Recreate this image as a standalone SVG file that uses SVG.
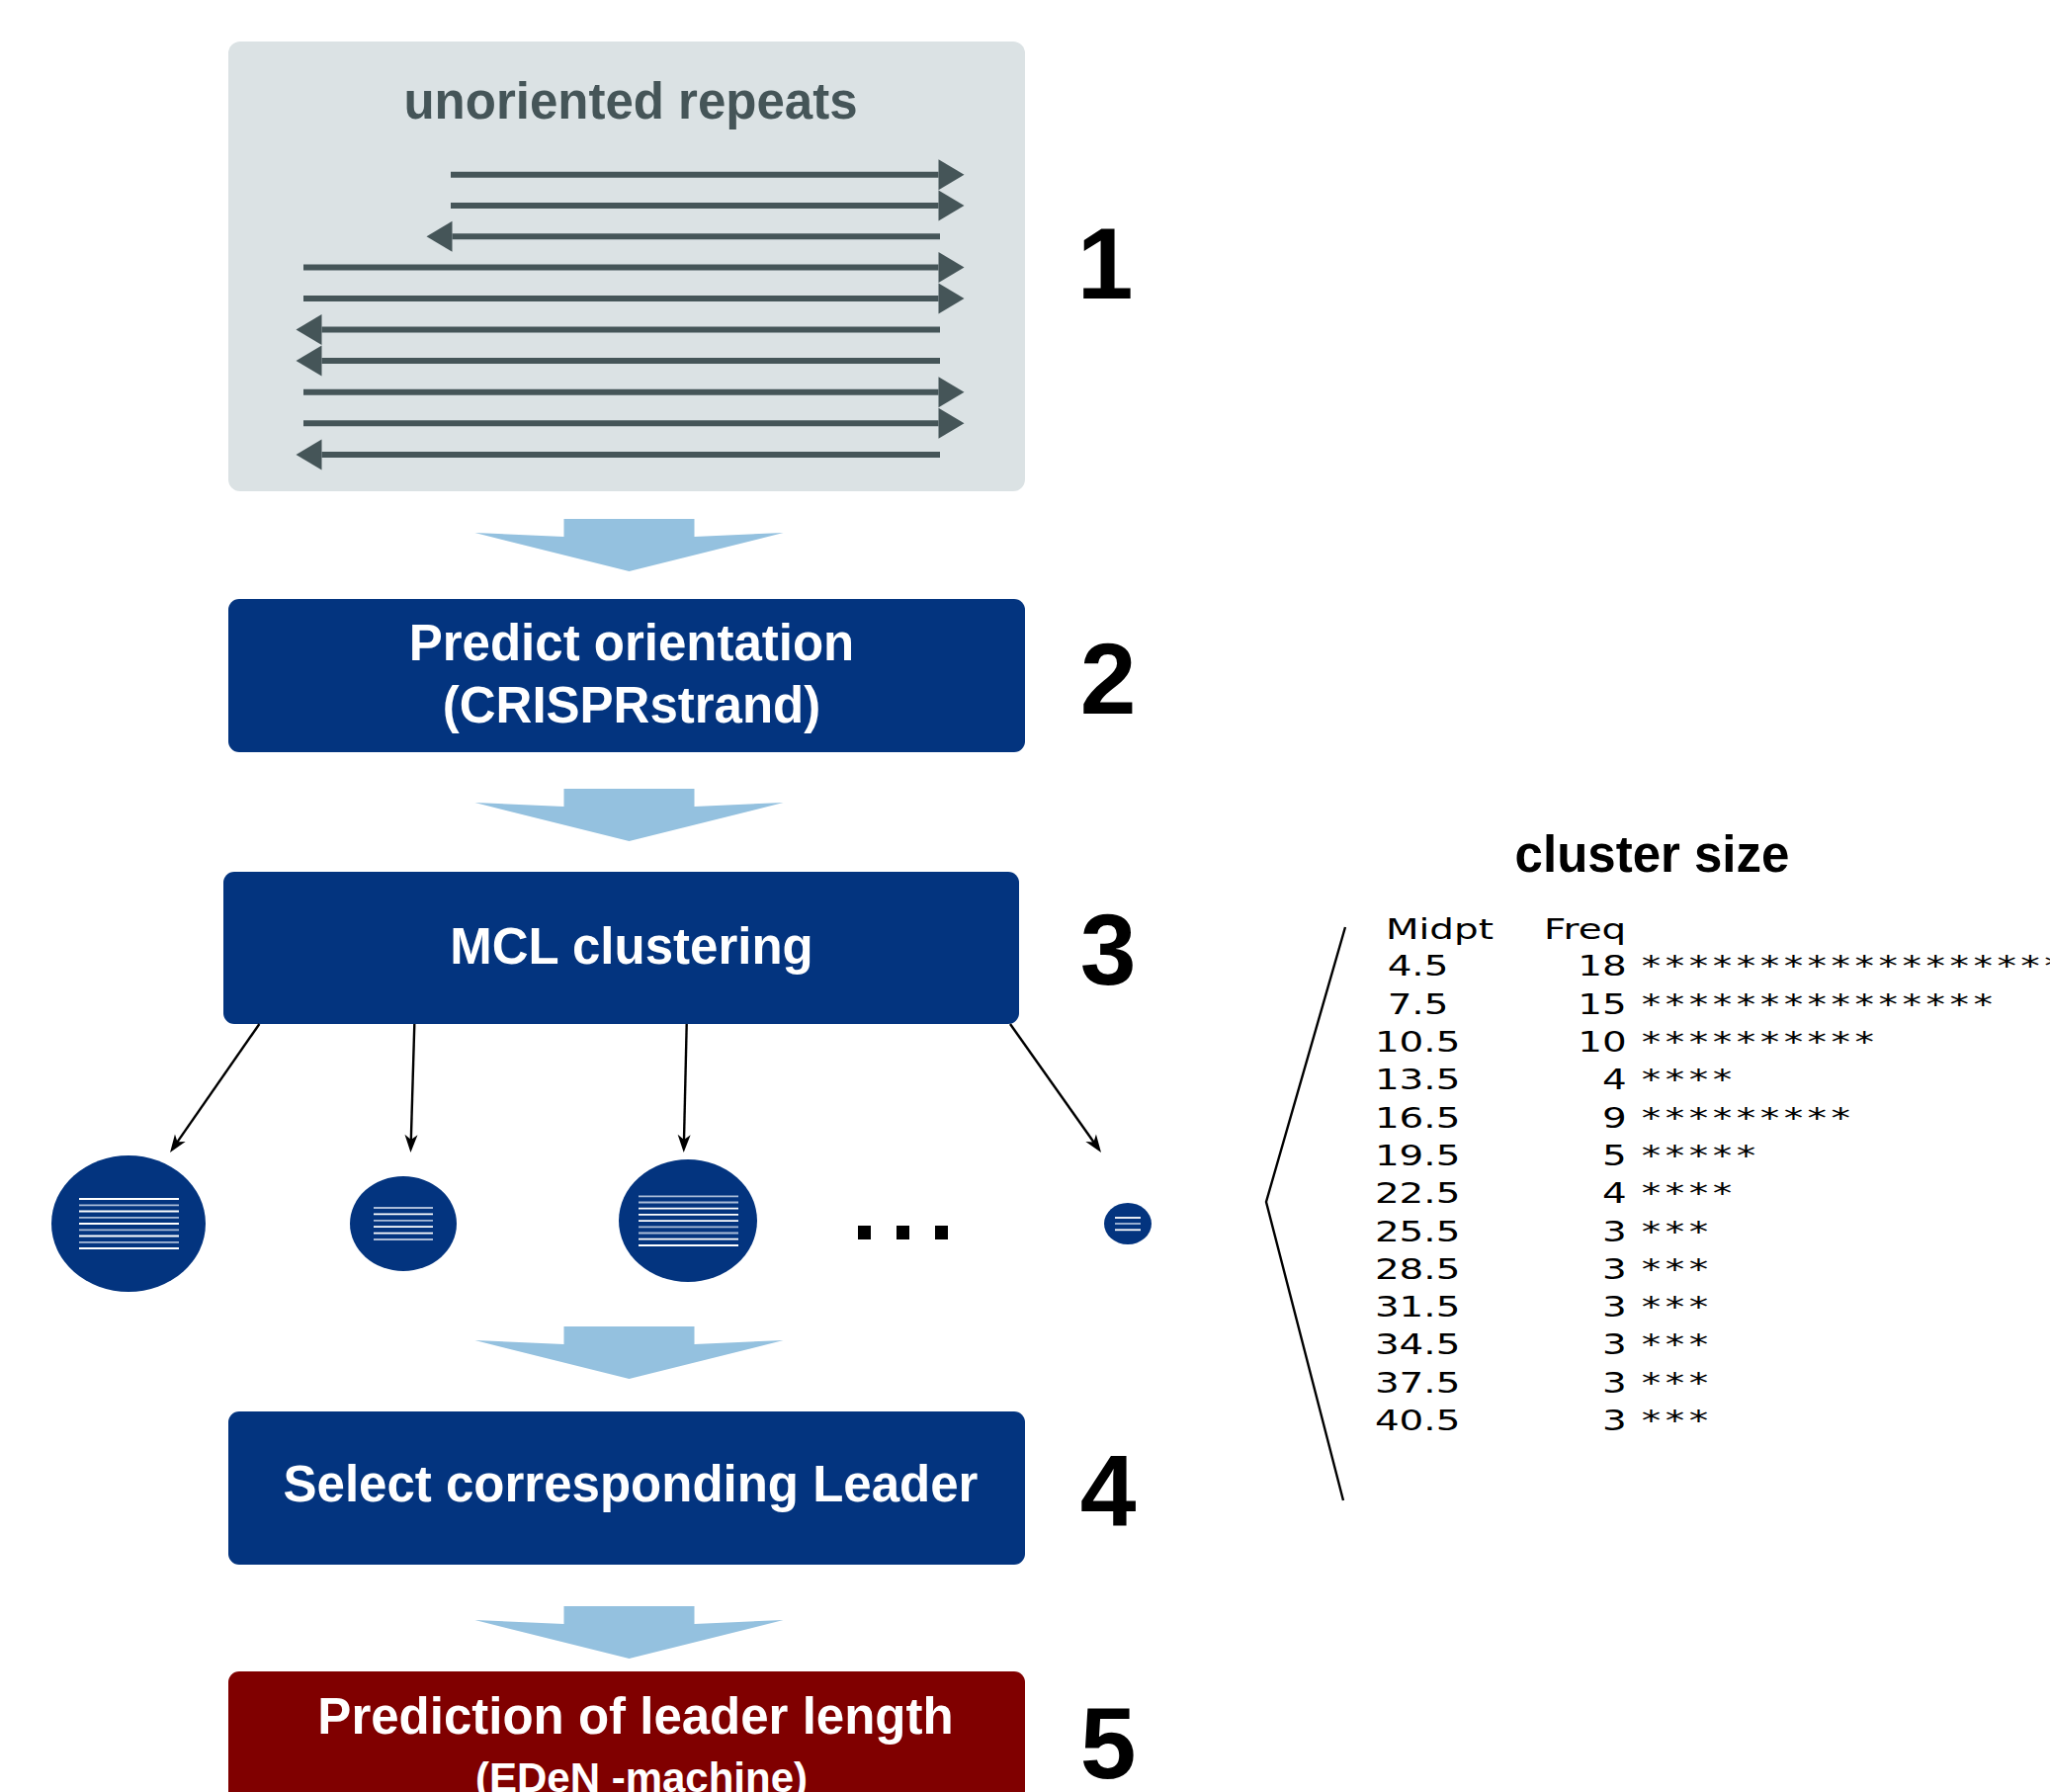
<svg xmlns="http://www.w3.org/2000/svg" width="2074" height="1813" viewBox="0 0 2074 1813">
  <style>
    .box { fill: #03347f; }
    .boxtxt { font-family: "Liberation Sans", Arial, sans-serif; font-weight: bold; fill: #ffffff; text-anchor: middle; }
    .num { font-family: "Liberation Sans", Arial, sans-serif; font-weight: bold; font-size: 102px; fill: #000000; text-anchor: middle; }
    .rep { stroke: #455558; stroke-width: 6; fill: none; }
    .conn { stroke: #000000; stroke-width: 2.4; fill: none; }
    .cl { fill: #03347f; }
    .lw { stroke: #ffffff; stroke-width: 1.8; }
    .lb { stroke: #a9bbd8; stroke-width: 1.8; }
    .hist { font-family: "DejaVu Sans", Verdana, sans-serif; font-size: 29px; fill: #000000; }
    .freq { text-anchor: end; }
    .ast { letter-spacing: 3.4px; }
  </style>
  <defs>
    <marker id="repHead" markerUnits="userSpaceOnUse" markerWidth="30" markerHeight="34" viewBox="0 -17 30 34" refX="0" refY="0" orient="auto" overflow="visible">
      <path d="M0,-15.5 L26,0 L0,15.5 Z" fill="#455558"/>
    </marker>
    <marker id="connHead" markerUnits="userSpaceOnUse" markerWidth="24" markerHeight="16" viewBox="-12 -8 24 16" refX="0" refY="0" orient="auto" overflow="visible">
      <path d="M8,0 L-10,-6.5 L-5,0 L-10,6.5 Z" fill="#000000"/>
    </marker>
    <polygon id="bigArrow" points="-66,0 66,0 66,18 156,14 0,53 -156,14 -66,18" fill="#94c1df"/>
  </defs>

  <!-- Step 1: unoriented repeats -->
  <g id="node-repeats">
    <rect x="231" y="42" width="806" height="455" rx="12" ry="12" fill="#dbe2e4"/>
    <text x="638" y="120" font-family="Liberation Sans, Arial, sans-serif" font-weight="bold" font-size="51" fill="#455558" text-anchor="middle">unoriented repeats</text>
    <g id="repeat-arrows">
      <line class="rep" x1="456" y1="176.7" x2="949.5" y2="176.7" marker-end="url(#repHead)"/>
      <line class="rep" x1="456" y1="208" x2="949.5" y2="208" marker-end="url(#repHead)"/>
      <line class="rep" x1="951" y1="239.3" x2="457.5" y2="239.3" marker-end="url(#repHead)"/>
      <line class="rep" x1="307" y1="270.5" x2="949.5" y2="270.5" marker-end="url(#repHead)"/>
      <line class="rep" x1="307" y1="302" x2="949.5" y2="302" marker-end="url(#repHead)"/>
      <line class="rep" x1="951" y1="333.5" x2="325.5" y2="333.5" marker-end="url(#repHead)"/>
      <line class="rep" x1="951" y1="365" x2="325.5" y2="365" marker-end="url(#repHead)"/>
      <line class="rep" x1="307" y1="396.7" x2="949.5" y2="396.7" marker-end="url(#repHead)"/>
      <line class="rep" x1="307" y1="428.3" x2="949.5" y2="428.3" marker-end="url(#repHead)"/>
      <line class="rep" x1="951" y1="460" x2="325.5" y2="460" marker-end="url(#repHead)"/>
    </g>
  </g>

  <!-- Flow arrows -->
  <g id="flow-arrows">
    <use href="#bigArrow" transform="translate(636.5,525)"/>
    <use href="#bigArrow" transform="translate(636.5,798)"/>
    <use href="#bigArrow" transform="translate(636.5,1342)"/>
    <use href="#bigArrow" transform="translate(636.5,1625)"/>
  </g>

  <!-- Step 2 -->
  <g id="node-orientation">
    <rect class="box" x="231" y="606" width="806" height="155" rx="11" ry="11"/>
    <text class="boxtxt" x="639" y="668" font-size="51">Predict orientation</text>
    <text class="boxtxt" x="639" y="731" font-size="51">(CRISPRstrand)</text>
  </g>

  <!-- Step 3 -->
  <g id="node-mcl">
    <rect class="box" x="226" y="882" width="805" height="154" rx="11" ry="11"/>
    <text class="boxtxt" x="639" y="975" font-size="51">MCL clustering</text>
  </g>

  <!-- Clusters -->
  <g id="cluster-1">
    <ellipse class="cl" cx="130" cy="1238" rx="78" ry="69"/>
    <line class="lw" x1="80" y1="1213" x2="181" y2="1213"/>
    <line class="lb" x1="80" y1="1219.3" x2="181" y2="1219.3"/>
    <line class="lw" x1="80" y1="1225.5" x2="181" y2="1225.5"/>
    <line class="lb" x1="80" y1="1231.8" x2="181" y2="1231.8"/>
    <line class="lw" x1="80" y1="1238" x2="181" y2="1238"/>
    <line class="lb" x1="80" y1="1244.3" x2="181" y2="1244.3"/>
    <line class="lw" x1="80" y1="1250.5" x2="181" y2="1250.5"/>
    <line class="lb" x1="80" y1="1256.8" x2="181" y2="1256.8"/>
    <line class="lw" x1="80" y1="1263" x2="181" y2="1263"/>
  </g>
  <g id="cluster-2">
    <ellipse class="cl" cx="408" cy="1238" rx="54" ry="48"/>
    <line class="lb" x1="378" y1="1222" x2="438" y2="1222"/>
    <line class="lw" x1="378" y1="1228.4" x2="438" y2="1228.4"/>
    <line class="lb" x1="378" y1="1234.8" x2="438" y2="1234.8"/>
    <line class="lw" x1="378" y1="1241.2" x2="438" y2="1241.2"/>
    <line class="lw" x1="378" y1="1247.6" x2="438" y2="1247.6"/>
    <line class="lb" x1="378" y1="1254" x2="438" y2="1254"/>
  </g>
  <g id="cluster-3">
    <ellipse class="cl" cx="696" cy="1235" rx="70" ry="62"/>
    <line class="lb" x1="646" y1="1210.3" x2="747" y2="1210.3"/>
    <line class="lb" x1="646" y1="1216.5" x2="747" y2="1216.5"/>
    <line class="lw" x1="646" y1="1222.7" x2="747" y2="1222.7"/>
    <line class="lw" x1="646" y1="1228.9" x2="747" y2="1228.9"/>
    <line class="lw" x1="646" y1="1235.1" x2="747" y2="1235.1"/>
    <line class="lb" x1="646" y1="1241.3" x2="747" y2="1241.3"/>
    <line class="lb" x1="646" y1="1247.5" x2="747" y2="1247.5"/>
    <line class="lw" x1="646" y1="1253.7" x2="747" y2="1253.7"/>
    <line class="lw" x1="646" y1="1260" x2="747" y2="1260"/>
  </g>
  <g id="ellipsis">
    <rect x="868" y="1240" width="13" height="14" fill="#000000"/>
    <rect x="907" y="1240" width="13" height="14" fill="#000000"/>
    <rect x="946" y="1240" width="13" height="14" fill="#000000"/>
  </g>
  <g id="cluster-4">
    <ellipse class="cl" cx="1141" cy="1238" rx="24" ry="21"/>
    <line class="lw" x1="1128" y1="1232" x2="1154" y2="1232"/>
    <line class="lb" x1="1128" y1="1238" x2="1154" y2="1238"/>
    <line class="lw" x1="1128" y1="1244.3" x2="1154" y2="1244.3"/>
  </g>

  <!-- Connectors from MCL to clusters -->
  <g id="connectors">
    <line class="conn" x1="262.4" y1="1036" x2="176.6" y2="1159.4" marker-end="url(#connHead)"/>
    <line class="conn" x1="419.3" y1="1036" x2="415.7" y2="1158" marker-end="url(#connHead)"/>
    <line class="conn" x1="694.7" y1="1036" x2="691.9" y2="1158" marker-end="url(#connHead)"/>
    <line class="conn" x1="1022" y1="1036" x2="1109.4" y2="1159.5" marker-end="url(#connHead)"/>
    <polyline class="conn" points="1361,938 1281,1216 1359,1518"/>
  </g>

  <!-- Step 4 -->
  <g id="node-select">
    <rect class="box" x="231" y="1428" width="806" height="155" rx="11" ry="11"/>
    <text class="boxtxt" x="638" y="1519" font-size="51">Select corresponding Leader</text>
  </g>

  <!-- Step 5 -->
  <g id="node-predict">
    <rect x="231" y="1691" width="806" height="140" rx="11" ry="11" fill="#800000"/>
    <text class="boxtxt" x="643" y="1754" font-size="51">Prediction of leader length</text>
    <text class="boxtxt" x="649" y="1813" font-size="42">(EDeN -machine)</text>
  </g>

  <!-- Step numbers -->
  <g id="step-numbers">
    <text class="num" x="1118" y="302">1</text>
    <text class="num" x="1121" y="722">2</text>
    <text class="num" x="1121" y="996">3</text>
    <text class="num" x="1121" y="1543">4</text>
    <text class="num" x="1121" y="1799">5</text>
  </g>

  <!-- Histogram -->
  <g id="histogram">
    <text x="1671.5" y="881.5" font-family="Liberation Sans, Arial, sans-serif" font-weight="bold" font-size="51" fill="#000000" text-anchor="middle">cluster size</text>
    <g class="hist" transform="scale(1.34,1)">
      <text x="1046.3" y="950">Midpt</text>
      <text x="1165.7" y="950">Freq</text>
      <text x="1047.5" y="987.5">4.5</text>
      <text x="1047.5" y="1025.8">7.5</text>
      <text x="1038" y="1064.1">10.5</text>
      <text x="1038" y="1102.4">13.5</text>
      <text x="1038" y="1140.7">16.5</text>
      <text x="1038" y="1179">19.5</text>
      <text x="1038" y="1217.3">22.5</text>
      <text x="1038" y="1255.6">25.5</text>
      <text x="1038" y="1293.9">28.5</text>
      <text x="1038" y="1332.2">31.5</text>
      <text x="1038" y="1370.5">34.5</text>
      <text x="1038" y="1408.8">37.5</text>
      <text x="1038" y="1447.1">40.5</text>
      <text class="freq" x="1228.1" y="987.5">18</text>
      <text class="freq" x="1228.1" y="1025.8">15</text>
      <text class="freq" x="1228.1" y="1064.1">10</text>
      <text class="freq" x="1228.1" y="1102.4">4</text>
      <text class="freq" x="1228.1" y="1140.7">9</text>
      <text class="freq" x="1228.1" y="1179">5</text>
      <text class="freq" x="1228.1" y="1217.3">4</text>
      <text class="freq" x="1228.1" y="1255.6">3</text>
      <text class="freq" x="1228.1" y="1293.9">3</text>
      <text class="freq" x="1228.1" y="1332.2">3</text>
      <text class="freq" x="1228.1" y="1370.5">3</text>
      <text class="freq" x="1228.1" y="1408.8">3</text>
      <text class="freq" x="1228.1" y="1447.1">3</text>
      <text class="ast" x="1239.4" y="987.5">******************</text>
      <text class="ast" x="1239.4" y="1025.8">***************</text>
      <text class="ast" x="1239.4" y="1064.1">**********</text>
      <text class="ast" x="1239.4" y="1102.4">****</text>
      <text class="ast" x="1239.4" y="1140.7">*********</text>
      <text class="ast" x="1239.4" y="1179">*****</text>
      <text class="ast" x="1239.4" y="1217.3">****</text>
      <text class="ast" x="1239.4" y="1255.6">***</text>
      <text class="ast" x="1239.4" y="1293.9">***</text>
      <text class="ast" x="1239.4" y="1332.2">***</text>
      <text class="ast" x="1239.4" y="1370.5">***</text>
      <text class="ast" x="1239.4" y="1408.8">***</text>
      <text class="ast" x="1239.4" y="1447.1">***</text>
    </g>
  </g>
</svg>
